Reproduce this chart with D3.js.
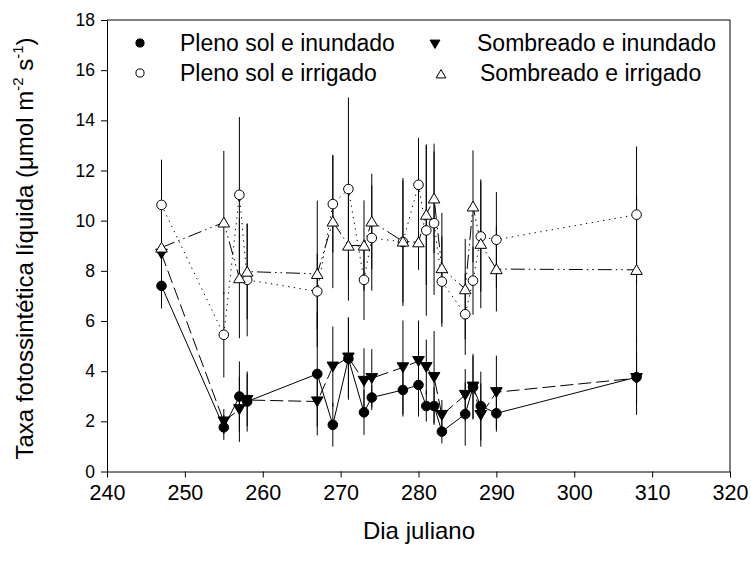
<!DOCTYPE html>
<html><head><meta charset="utf-8">
<script src="https://cdn.jsdelivr.net/npm/d3@7"></script>
<style>body{margin:0;background:#fff}svg{display:block}text{font-family:"Liberation Sans",Arial,sans-serif;fill:#000}</style>
</head><body><div id="chart"></div>
<script>
const days = [247,255,257,258,267,269,271,273,274,278,280,281,282,283,286,287,288,290,308];
// Pleno sol e inundado
const psInund = [7.40,1.76,2.99,2.79,3.89,1.86,4.50,2.36,2.95,3.25,3.45,2.61,2.61,1.59,2.29,3.36,2.61,2.32,3.76];
const psInundErr = [0.9,0.5,1.4,1.2,2.45,0.87,1.64,0.9,0.5,1.06,1.26,0.62,0.75,0.47,1.26,1.25,1.37,0.73,1.5];
// Pleno sol e irrigado
const psIrrig = [10.63,5.45,11.03,7.64,7.18,10.66,11.26,7.64,9.31,9.15,11.43,9.61,9.90,7.57,6.27,7.61,9.37,9.24,10.24];
const psIrrigErr = [1.8,1.7,3.1,2.25,1.5,1.93,3.65,1.6,2.1,2.55,1.87,3.4,2.86,1.8,1.62,1.36,2.2,1.9,2.72];
// Sombreado e inundado
const sbInund = [8.68,1.99,2.48,2.85,2.79,4.18,4.54,3.61,3.72,4.15,4.40,4.16,3.76,2.25,3.05,3.38,2.25,3.16,3.72];
const sbInundErr = [1.0,0.5,1.3,1.05,1.0,1.6,1.6,1.3,1.16,1.87,1.62,1.1,1.84,0.6,1.03,1.31,1.26,1.46,1.0];
// Sombreado e irrigado
const sbIrrig = [8.93,9.93,7.71,7.97,7.88,9.97,9.01,9.01,9.97,9.17,9.14,10.24,10.89,8.11,7.27,10.57,9.08,8.07,8.04];
const sbIrrigErr = [1.2,2.85,2.4,1.9,2.92,2.66,2.2,1.8,1.9,2.43,1.1,2.8,2.18,2.2,2.0,2.23,2.57,1.69,2.9];

const xTicks = [240,250,260,270,280,290,300,310,320];
const yTicks = [0,2,4,6,8,10,12,14,16,18];
const legendLabels = ["Pleno sol e inundado","Pleno sol e irrigado","Sombreado e inundado","Sombreado e irrigado"];

const W=751,H=564, L=107,R=730,T=20,B=471.5;
const svg=d3.select("#chart").append("svg").attr("width",W).attr("height",H);
const x=d3.scaleLinear().domain([240,320]).range([L,R]);
const y=d3.scaleLinear().domain([0,18]).range([B,T]);

const series=[
 {vals:psInund,err:psInundErr,sym:"circle",fill:"#000",dash:null},
 {vals:psIrrig,err:psIrrigErr,sym:"circle",fill:"#fff",dash:"1.3,4.5"},
 {vals:sbInund,err:sbInundErr,sym:"down",fill:"#000",dash:"13,5"},
 {vals:sbIrrig,err:sbIrrigErr,sym:"up",fill:"#fff",dash:"14,4,1.5,4,1.5,4"}
];

// frame
svg.append("path").attr("d",`M${L},${T}H${R}V${B}`).attr("fill","none").attr("stroke","#000").attr("stroke-width",1);
const xa=svg.append("g").attr("transform",`translate(0,${B})`).call(d3.axisBottom(x).tickValues(xTicks).tickSize(6).tickPadding(5).tickSizeOuter(0));
const ya=svg.append("g").attr("transform",`translate(${L},0)`).call(d3.axisLeft(y).tickValues(yTicks).tickSize(6).tickPadding(6).tickSizeOuter(0));
[xa,ya].forEach(g=>{g.selectAll("text").attr("font-family","Liberation Sans, Arial");g.selectAll("path,line").attr("stroke","#000");});
xa.selectAll("text").attr("font-size",21.5).attr("y",28).attr("dy",0);
ya.selectAll("text").attr("font-size",17.5);

// error bars
series.forEach(s=>{
  svg.append("g").selectAll("line").data(days).join("line")
   .attr("x1",(d)=>x(d)).attr("x2",(d)=>x(d))
   .attr("y1",(d,i)=>y(s.vals[i]+s.err[i])).attr("y2",(d,i)=>y(s.vals[i]-s.err[i]))
   .attr("stroke","#000").attr("stroke-width",1);
});
// lines
const line=d3.line().x((d)=>x(d[0])).y((d)=>y(d[1]));
series.forEach(s=>{
  svg.append("path").datum(days.map((d,i)=>[d,s.vals[i]])).attr("d",line)
   .attr("fill","none").attr("stroke","#000").attr("stroke-width",1)
   .attr("stroke-dasharray",s.dash);
});
function symPath(t,k){
  k=k||1;
  if(t==="up") return `M0,${-5.2*k}L${5.8*k},${4.6*k}L${-5.8*k},${4.6*k}Z`;
  if(t==="down") return `M0,${5.2*k}L${5.8*k},${-4.6*k}L${-5.8*k},${-4.6*k}Z`;
  return d3.symbol(d3.symbolCircle,Math.PI*4.8*4.8*k*k)();
}
series.forEach(s=>{
  svg.append("g").selectAll("path").data(days).join("path")
   .attr("transform",(d,i)=>`translate(${x(d)},${y(s.vals[i])})`)
   .attr("d",symPath(s.sym)).attr("fill",s.fill).attr("stroke","#000").attr("stroke-width",1);
});

// legend
const leg=[
 {s:0,mx:140,my:43,ty:51.3,tx:180},
 {s:1,mx:140,my:73,ty:81.3,tx:180},
 {s:2,mx:435,my:44,ty:51.3,tx:477},
 {s:3,mx:441,my:74,ty:81.3,tx:480}
];
leg.forEach(l=>{
  const s=series[l.s];
  svg.append("path").attr("transform",`translate(${l.mx},${l.my})`)
   .attr("d",symPath(s.sym,0.85))
   .attr("fill",s.fill).attr("stroke","#000").attr("stroke-width",1);
  svg.append("text").attr("x",l.tx).attr("y",l.ty).attr("font-size",23).text(legendLabels[l.s]);
});

// axis titles
svg.append("text").attr("x",419).attr("y",539).attr("text-anchor","middle").attr("font-size",24).text("Dia juliano");
const yt=svg.append("text").attr("transform","translate(33,248.5) rotate(-90)").attr("text-anchor","middle").attr("font-size",24);
yt.append("tspan").text("Taxa fotossintética líquida (μmol m");
yt.append("tspan").attr("font-size",15).attr("dy",-10).text("-2");
yt.append("tspan").attr("dy",10).text(" s");
yt.append("tspan").attr("font-size",15).attr("dy",-10).text("-1");
yt.append("tspan").attr("dy",10).text(")");
</script></body></html>
